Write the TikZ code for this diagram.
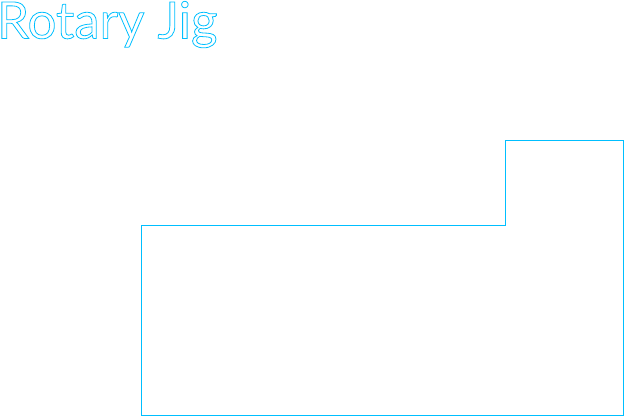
\documentclass[tikz,border=0pt]{standalone}
\usepackage{fontspec}
\setmainfont{Lato}
\definecolor{jigblue}{HTML}{00BFFF}
\newcommand{\hollowtext}[1]{\special{pdf:literal direct 1 Tr 0.8 w 0 0.749 1 RG}#1\special{pdf:literal direct 0 Tr}}
\tikzset{
	outline/.style={draw=jigblue, line width=0.8pt},
	hollowtitle/.style={inner sep=0pt, anchor=base west, font=\fontsize{51}{51}\selectfont}
}
\begin{document}
\begin{tikzpicture}[x=1pt, y=-1pt]
		\useasboundingbox (0,0) rectangle (625,418);
		\node[hollowtitle] (title) at (-3,38.5) {\hollowtext{Rotary Jig}};

		\coordinate (base) at (141,415.5);
		\coordinate (step) at (505.5,225.5);
		\coordinate (top) at (623.5,140.5);

		\draw[outline] (base) |- (step) |- (top) |- (base) -- cycle;
	\end{tikzpicture}
\end{document}
